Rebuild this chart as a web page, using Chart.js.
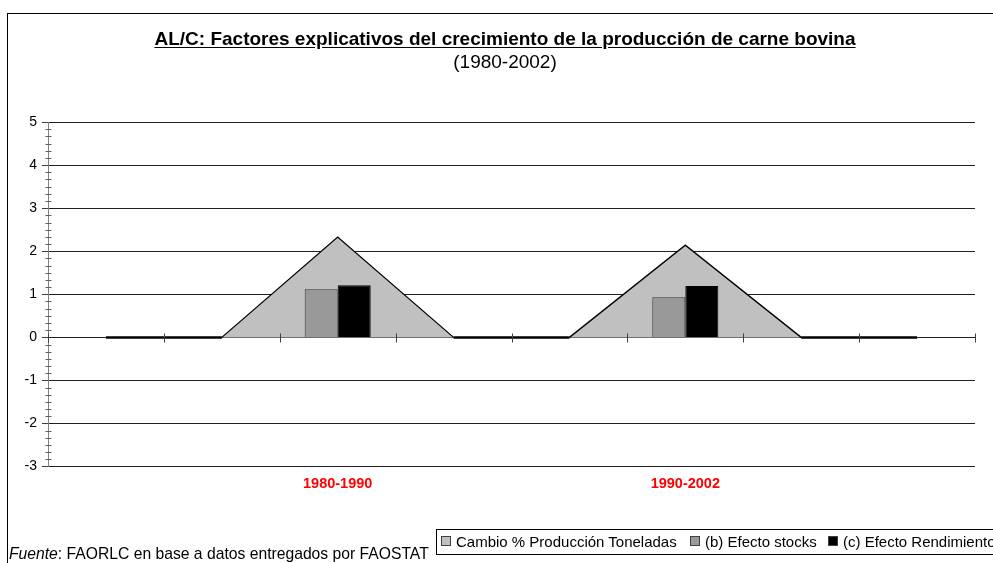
<!DOCTYPE html>
<html>
<head>
<meta charset="utf-8">
<script src="https://cdn.jsdelivr.net/npm/chart.js@4.4.1/dist/chart.umd.min.js"></script>
<style>
  html, body { margin: 0; padding: 0; background: #fff; overflow: hidden; }
  #wrap { position: relative; width: 993px; height: 563px; font-family: "Liberation Sans", Arial, sans-serif; color: #000; }
  #c { position: absolute; left: 0; top: 0; }
  #frame { position: absolute; left: 7px; top: 13px; width: 1100px; height: 700px; border-left: 1px solid #000; border-top: 1px solid #000; }
  #title { position: absolute; left: 0; width: 1010px; top: 28px; line-height: 22px; text-align: center; font-weight: bold; font-size: 19px; }
  #title span { text-decoration: underline; text-underline-offset: 2px; }
  #subtitle { position: absolute; left: 0; width: 1010px; top: 51px; line-height: 22px; text-align: center; font-size: 19px; }
  #foot { position: absolute; left: 9px; top: 545px; line-height: 18px; font-size: 15.7px; white-space: nowrap; }
  #legend { position: absolute; left: 436px; top: 529px; width: 700px; height: 24px; border: 1px solid #000; background: #fff; white-space: nowrap; font-size: 15px; }
  .li { position: absolute; top: 3px; line-height: 18px; }
  .sw { display: inline-block; width: 8px; height: 8px; border: 1px solid #404040; margin-right: 5px; vertical-align: 1px; }
</style>
</head>
<body>
<div id="wrap">
  <canvas id="c" width="993" height="563"></canvas>
  <div id="frame"></div>
  <div id="title"><span>AL/C: Factores explicativos del crecimiento de la producción de carne bovina</span></div>
  <div id="subtitle">(1980-2002)</div>
  <div id="foot"><i>Fuente</i>: FAORLC en base a datos entregados por FAOSTAT</div>
  <div id="legend"></div>
</div>
<script>
// ---- data ----
const categories = ['', '', '1980-1990', '', '', '1990-2002', '', ''];
const cambioProduccion = [0, 0, 2.33, 0, 0, 2.14, 0, 0];
const efectoStocks = [null, null, 1.12, null, null, 0.93, null, null];
const efectoRendimiento = [null, null, 1.21, null, null, 1.19, null, null];
const seriesNames = ['Cambio % Producción Toneladas', '(b) Efecto stocks', '(c) Efecto Rendimiento'];
const seriesColors = ['#c0c0c0', '#999999', '#000000'];
const yMin = -3, yMax = 5, yStep = 1, yMinorDiv = 6;

// ---- legend (HTML) ----
const legendLeft = [4, 253, 391];
const legendEl = document.getElementById('legend');
seriesNames.forEach((n, i) => {
  const d = document.createElement('div');
  d.className = 'li';
  d.style.left = legendLeft[i] + 'px';
  const s = document.createElement('span');
  s.className = 'sw';
  s.style.background = seriesColors[i];
  d.appendChild(s);
  d.appendChild(document.createTextNode(n));
  legendEl.appendChild(d);
});

// ---- plugins ----
const axisDecor = {
  id: 'axisDecor',
  afterDatasetsDraw(chart) {
    const ctx = chart.ctx, x = chart.scales.x, y = chart.scales.y;
    const y0 = Math.round(y.getPixelForValue(0)) + 0.5;
    ctx.save();
    ctx.strokeStyle = '#404040';
    ctx.lineWidth = 1;
    const n = categories.length;
    const step = x.getPixelForValue(1) - x.getPixelForValue(0);
    for (let i = 0; i <= n; i++) {
      let px = x.getPixelForValue(0) + (i - 0.5) * step;
      px = Math.round(px) + 0.5;
      ctx.beginPath();
      ctx.moveTo(px, y0 - 4);
      ctx.lineTo(px, y0 + 5);
      ctx.stroke();
    }
    const ax = Math.round(chart.chartArea.left) + 0.5;
    ctx.strokeStyle = '#606060';
    for (let v = yMin; v < yMax; v += yStep) {
      for (let k = 1; k < yMinorDiv; k++) {
        const py = Math.round(y.getPixelForValue(v + k * yStep / yMinorDiv)) + 0.5;
        ctx.beginPath();
        ctx.moveTo(ax - 3, py);
        ctx.lineTo(ax + 3, py);
        ctx.stroke();
      }
    }
    ctx.restore();
  }
};

new Chart(document.getElementById('c'), {
  data: {
    labels: categories,
    datasets: [
      {
        type: 'line', label: seriesNames[0], data: cambioProduccion,
        backgroundColor: seriesColors[0], borderColor: '#000', borderWidth: 1.3,
        segment: { borderWidth: c => (c.p0.parsed.y === 0 && c.p1.parsed.y === 0) ? 2.5 : 1.3 },
        fill: 'origin', pointRadius: 0, tension: 0, order: 3
      },
      {
        type: 'bar', label: seriesNames[1], data: efectoStocks,
        backgroundColor: seriesColors[1], borderColor: '#303030', borderWidth: 1,
        categoryPercentage: 0.57, barPercentage: 1, order: 1
      },
      {
        type: 'bar', label: seriesNames[2], data: efectoRendimiento,
        backgroundColor: seriesColors[2], borderColor: '#000', borderWidth: 1,
        categoryPercentage: 0.57, barPercentage: 1, order: 1
      }
    ]
  },
  options: {
    responsive: false,
    animation: false,
    events: [],
    layout: { padding: { top: 122, left: 0, right: 18, bottom: 61 } },
    plugins: { legend: { display: false }, title: { display: false }, tooltip: { enabled: false } },
    scales: {
      x: {
        type: 'category',
        offset: true,
        grid: { display: false, drawTicks: false },
        border: { display: false },
        ticks: {
          color: '#ff0000', padding: 9, maxRotation: 0, autoSkip: false,
          font: { family: 'Liberation Sans', size: 14.5, weight: 'bold' }
        }
      },
      y: {
        min: yMin, max: yMax,
        ticks: {
          stepSize: yStep, color: '#000', padding: 5,
          font: { family: 'Liberation Sans', size: 14 }
        },
        grid: { color: '#202020', lineWidth: 1, drawTicks: true, tickLength: 6, tickColor: '#404040' },
        border: { display: true, color: '#808080', width: 1 },
        afterFit(s) { s.width = 48; }
      }
    }
  },
  plugins: [axisDecor]
});
</script>
</body>
</html>
